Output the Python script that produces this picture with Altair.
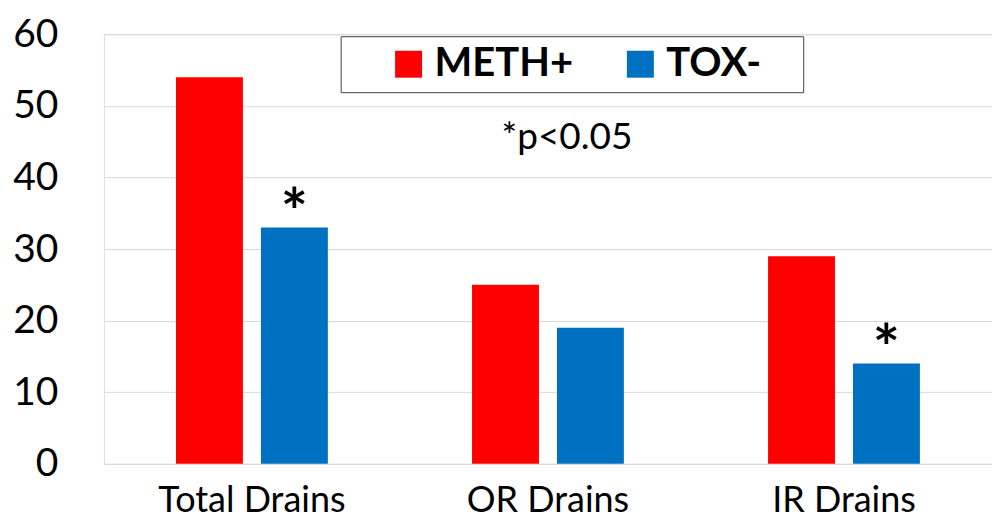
import altair as alt
import pandas as pd

categories = ["Total Drains", "OR Drains", "IR Drains"]
groups = ["METH+", "TOX-"]
meth_values = [54, 25, 29]
tox_values = [33, 19, 14]
tox_marks = ["*", "", "*"]
colors = ["#FF0000", "#0070C0"]
yticks = [0, 10, 20, 30, 40, 50, 60]
note_text = "*p<0.05"
note_category = "OR Drains"
note_y = 44.0

rows = []
for c, m, t in zip(categories, meth_values, tox_values):
    rows.append({"category": c, "group": "METH+", "value": m})
    rows.append({"category": c, "group": "TOX-", "value": t})
bars_df = pd.DataFrame(rows)

stars_df = pd.DataFrame([
    {"category": c, "group": "TOX-", "value": t, "mark": s}
    for c, t, s in zip(categories, tox_values, tox_marks) if s
])
note_df = pd.DataFrame([{"category": note_category, "value": note_y, "label": note_text}])

FONT = "Lato"

x_enc = alt.X(
    "category:N",
    sort=categories,
    scale=alt.Scale(paddingInner=0, paddingOuter=0),
    axis=alt.Axis(
        title=None, labelAngle=0, labelFontSize=36, labelFont=FONT,
        labelColor="#000000", ticks=False, domain=False, labelPadding=20,
        labelLimit=400,
    ),
)
xoff_enc = alt.XOffset(
    "group:N", sort=groups,
    scale=alt.Scale(domain=groups, paddingInner=0.212, paddingOuter=0.849),
)
y_scale = alt.Scale(domain=[0, 60], nice=False)
y_axis = alt.Axis(
    title=None, values=yticks, labelFontSize=39, labelFont=FONT,
    labelColor="#000000", ticks=False, domain=False, labelPadding=46,
    gridColor="#d9d9d9", gridWidth=1,
)

bars = alt.Chart(bars_df).mark_bar().encode(
    x=x_enc,
    xOffset=xoff_enc,
    y=alt.Y("value:Q", scale=y_scale, axis=y_axis),
    color=alt.Color(
        "group:N",
        scale=alt.Scale(domain=groups, range=colors),
        legend=alt.Legend(
            title=" ", titleOrient="right", titlePadding=34, titleFontSize=8,
            orient="none", legendX=237, legendY=2,
            direction="horizontal", symbolType="square", symbolSize=729,
            symbolStrokeWidth=0, labelFontSize=40, labelFontWeight="bold",
            labelFont=FONT, labelColor="#000000", labelOffset=6,
            strokeColor="#404040", fillColor="#ffffff", padding=8,
            symbolOffset=40, columnPadding=7,
        ),
    ),
)

stars = alt.Chart(stars_df).mark_text(
    font=FONT, fontSize=64, fontWeight="bold", color="#000000",
    baseline="alphabetic", dy=7,
).encode(
    x=alt.X("category:N", sort=categories),
    xOffset=alt.XOffset("group:N", sort=groups),
    y=alt.Y("value:Q"),
    text="mark:N",
)

note = alt.Chart(note_df).mark_text(
    font=FONT, fontSize=37, color="#000000", baseline="alphabetic", dx=19,
).encode(
    x=alt.X("category:N", sort=categories),
    y=alt.Y("value:Q"),
    text="label:N",
)

chart = alt.layer(bars, stars, note).properties(
    width=889, height=430,
    padding={"left": 4, "top": 7, "right": 0, "bottom": 0},
).configure_view(stroke=None).configure(font=FONT)

chart.save("out.html", embed_options={"renderer": "svg", "actions": False})
